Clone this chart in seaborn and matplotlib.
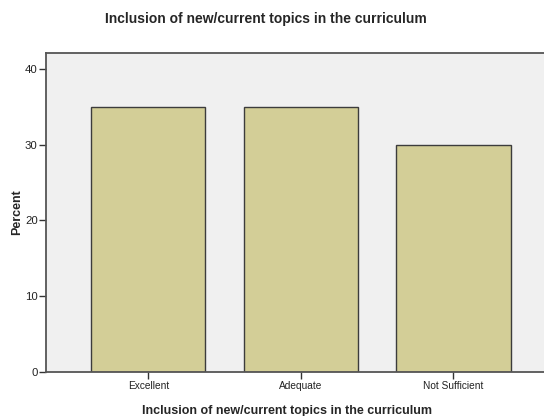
import pandas as pd
import matplotlib
matplotlib.use("Agg")
import matplotlib.pyplot as plt
import seaborn as sns

categories = ["Excellent", "Adequate", "Not Sufficient"]
percent = [35, 35, 30]
y_ticks = [0, 10, 20, 30, 40]
title = "Inclusion of new/current topics in the curriculum"

df = pd.DataFrame({"category": categories, "percent": percent})

sns.set_style("white")
plt.rcParams["font.family"] = ["Liberation Sans", "DejaVu Sans"]

fig = plt.figure(figsize=(5.44, 4.16), dpi=100)
ax = fig.add_axes([46 / 544, 1 - 371.7 / 416, 1 - 46 / 544, (371.7 - 53) / 416])
ax.set_facecolor("#F0F0F0")

sns.barplot(
    data=df,
    x="category",
    y="percent",
    order=categories,
    color="#D3CE97",
    saturation=1,
    width=0.75,
    edgecolor="#3C3C3C",
    linewidth=1.0,
    ax=ax,
)

ax.set_xlim(-0.670, 2.593)
ax.set_ylim(0, 42.15)
ax.set_yticks(y_ticks)
ax.tick_params(axis="both", which="major", bottom=True, left=True,
               direction="out", length=5, width=1, color="#333333", pad=2)
ax.tick_params(axis="y", labelsize=8.2, labelcolor="#222222", pad=1)
ax.tick_params(axis="x", labelsize=7.3, labelcolor="#222222")

for side in ["left", "bottom", "top"]:
    ax.spines[side].set_visible(True)
    ax.spines[side].set_color("#555555")
    ax.spines[side].set_linewidth(1.3)
ax.spines["right"].set_visible(False)

ax.set_xlabel(title, fontsize=9, fontweight="bold")
ax.xaxis.set_label_coords((287 - 46) / 498, -(405 - 371.7) / (371.7 - 53))
ax.set_ylabel("Percent", fontsize=9, fontweight="bold")
ax.yaxis.set_label_coords(-(46 - 23) / 498, 0.5)

fig.text(266 / 544, 1 - 19 / 416, title, ha="center", va="center",
         fontsize=10, fontweight="bold")

fig.savefig("out.png", dpi=100)
